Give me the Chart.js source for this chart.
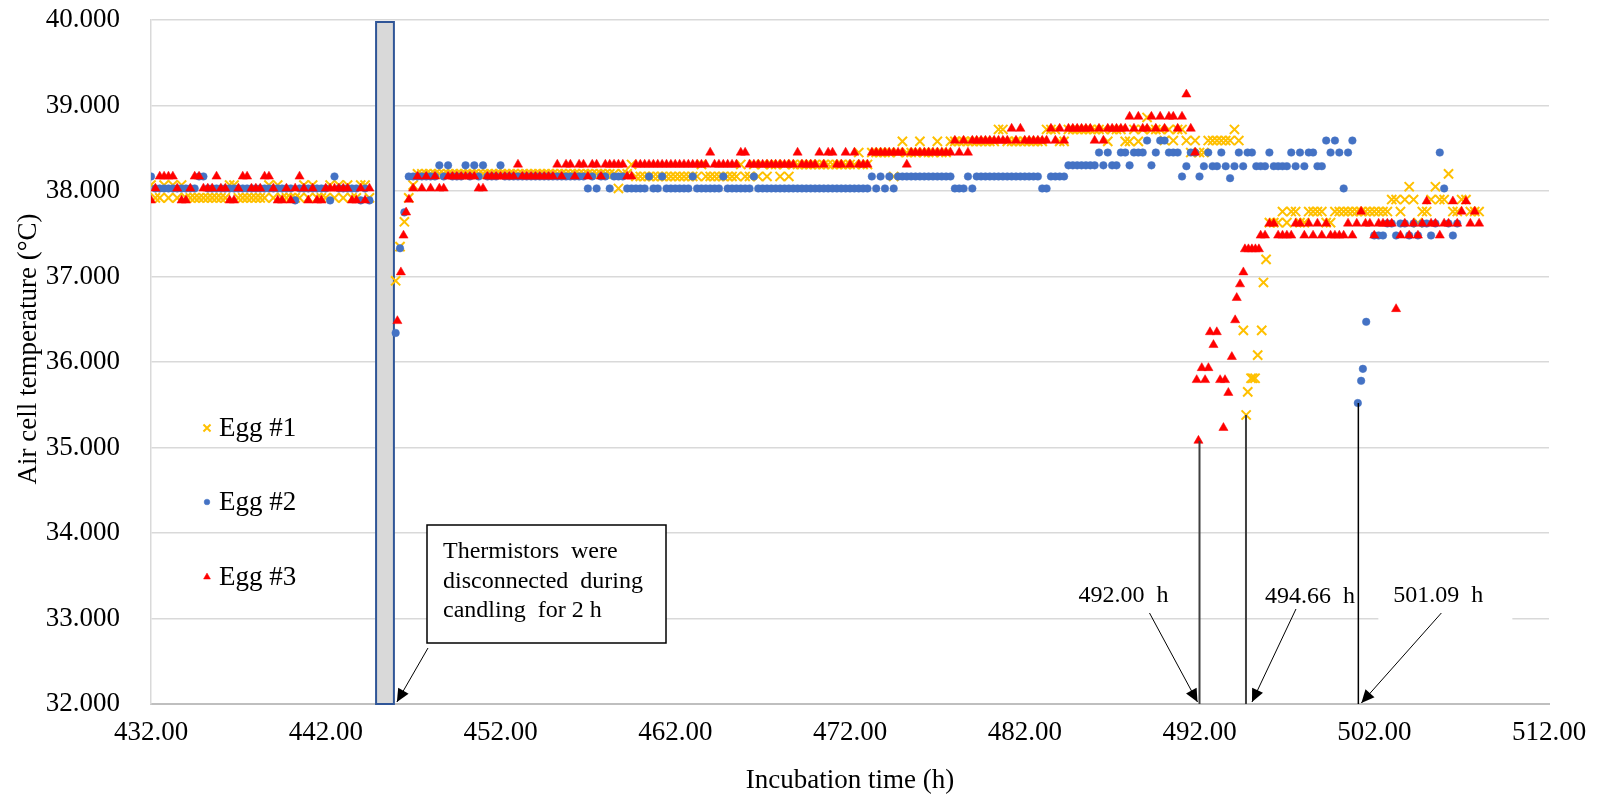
<!DOCTYPE html>
<html>
<head>
  <meta charset="utf-8" />
  <title>Air cell temperature - eggs 1 to 3</title>
  <script src="https://cdn.jsdelivr.net/npm/chart.js"></script>
  <style>
    body { margin: 0; background: #ffffff; }
  </style>
</head>
<body>
  <canvas id="airCellChart" width="1598" height="794"></canvas>

  <script>
    // logger readings, one every 15 min (h)
    const hours = [
      432, 432.25, 432.5, 432.75, 433, 433.25, 433.5, 433.75,
      434, 434.25, 434.5, 434.75, 435, 435.25, 435.5, 435.75,
      436, 436.25, 436.5, 436.75, 437, 437.25, 437.5, 437.75,
      438, 438.25, 438.5, 438.75, 439, 439.25, 439.5, 439.75,
      440, 440.25, 440.5, 440.75, 441, 441.25, 441.5, 441.75,
      442, 442.25, 442.5, 442.75, 443, 443.25, 443.5, 443.75,
      444, 444.25, 444.5, 444.75, 445, 445.25, 445.5, 445.75,
      446, 446.25, 446.5, 446.75, 447, 447.25, 447.5, 447.75,
      448, 448.25, 448.5, 448.75, 449, 449.25, 449.5, 449.75,
      450, 450.25, 450.5, 450.75, 451, 451.25, 451.5, 451.75,
      452, 452.25, 452.5, 452.75, 453, 453.25, 453.5, 453.75,
      454, 454.25, 454.5, 454.75, 455, 455.25, 455.5, 455.75,
      456, 456.25, 456.5, 456.75, 457, 457.25, 457.5, 457.75,
      458, 458.25, 458.5, 458.75, 459, 459.25, 459.5, 459.75,
      460, 460.25, 460.5, 460.75, 461, 461.25, 461.5, 461.75,
      462, 462.25, 462.5, 462.75, 463, 463.25, 463.5, 463.75,
      464, 464.25, 464.5, 464.75, 465, 465.25, 465.5, 465.75,
      466, 466.25, 466.5, 466.75, 467, 467.25, 467.5, 467.75,
      468, 468.25, 468.5, 468.75, 469, 469.25, 469.5, 469.75,
      470, 470.25, 470.5, 470.75, 471, 471.25, 471.5, 471.75,
      472, 472.25, 472.5, 472.75, 473, 473.25, 473.5, 473.75,
      474, 474.25, 474.5, 474.75, 475, 475.25, 475.5, 475.75,
      476, 476.25, 476.5, 476.75, 477, 477.25, 477.5, 477.75,
      478, 478.25, 478.5, 478.75, 479, 479.25, 479.5, 479.75,
      480, 480.25, 480.5, 480.75, 481, 481.25, 481.5, 481.75,
      482, 482.25, 482.5, 482.75, 483, 483.25, 483.5, 483.75,
      484, 484.25, 484.5, 484.75, 485, 485.25, 485.5, 485.75,
      486, 486.25, 486.5, 486.75, 487, 487.25, 487.5, 487.75,
      488, 488.25, 488.5, 488.75, 489, 489.25, 489.5, 489.75,
      490, 490.25, 490.5, 490.75, 491, 491.25, 491.5, 491.75,
      492, 492.25, 492.5, 492.75, 493, 493.25, 493.5, 493.75,
      494, 494.25, 494.5, 494.75, 495, 495.25, 495.5, 495.75,
      496, 496.25, 496.5, 496.75, 497, 497.25, 497.5, 497.75,
      498, 498.25, 498.5, 498.75, 499, 499.25, 499.5, 499.75,
      500, 500.25, 500.5, 500.75, 501, 501.25, 501.5, 501.75,
      502, 502.25, 502.5, 502.75, 503, 503.25, 503.5, 503.75,
      504, 504.25, 504.5, 504.75, 505, 505.25, 505.5, 505.75,
      506, 506.25, 506.5, 506.75, 507, 507.25, 507.5, 507.75,
      508
    ];

    // Egg #1 air cell temperature (°C), null = no reading
    const egg1Temps = [
      38.07, 37.92, 37.92, 38.07, 37.92, 38.07, 37.92, 38.07,
      37.92, 37.92, 37.92, 37.92, 37.92, 37.92, 37.92, 37.92,
      37.92, 37.92, 38.07, 38.07, 37.92, 37.92, 37.92, 37.92,
      37.92, 37.92, 37.92, 38.07, 37.92, 38.07, 37.92, 37.92,
      37.92, 37.92, 37.92, 38.07, 37.92, 38.07, 37.92, 37.92,
      37.92, 38.07, 37.92, 38.07, 37.92, 38.07, 37.92, 37.92,
      38.07, 38.07, 37.92, null, null, null, null, null,
      36.95, 37.35, 37.64, 37.92, 38.07, 38.20, 38.20, 38.20,
      38.20, 38.20, 38.20, 38.20, 38.20, 38.20, 38.20, 38.20,
      38.20, 38.20, 38.20, 38.20, 38.20, 38.20, 38.20, 38.20,
      38.20, 38.20, 38.20, 38.20, 38.20, 38.20, 38.20, 38.20,
      38.20, 38.20, 38.20, 38.20, 38.20, 38.20, 38.20, 38.20,
      38.20, 38.20, 38.20, 38.20, 38.20, 38.20, 38.20, 38.20,
      38.20, 38.20, 38.20, 38.03, 38.20, 38.20, 38.31, 38.17,
      38.17, 38.17, 38.17, 38.17, 38.17, 38.17, 38.17, 38.17,
      38.17, 38.17, 38.17, 38.17, 38.17, 38.17, 38.31, 38.17,
      38.17, 38.17, 38.17, 38.17, 38.17, 38.17, 38.17, 38.31,
      38.17, 38.17, 38.31, 38.17, 38.31, 38.17, 38.31, 38.31,
      38.17, 38.31, 38.17, 38.31, 38.31, 38.31, 38.31, 38.31,
      38.31, 38.31, 38.31, 38.31, 38.31, 38.31, 38.31, 38.31,
      38.31, 38.31, 38.45, 38.31, 38.31, 38.45, 38.45, 38.45,
      38.45, 38.45, 38.17, 38.45, 38.58, 38.45, 38.45, 38.45,
      38.58, 38.45, 38.45, 38.45, 38.58, 38.45, 38.45, 38.58,
      38.58, 38.58, 38.58, 38.58, 38.58, 38.58, 38.58, 38.58,
      38.58, 38.58, 38.72, 38.72, 38.58, 38.58, 38.58, 38.58,
      38.58, 38.58, 38.58, 38.58, 38.58, 38.72, 38.72, 38.72,
      38.58, 38.58, 38.72, 38.72, 38.72, 38.72, 38.72, 38.72,
      38.72, 38.72, 38.72, 38.58, 38.72, 38.72, 38.72, 38.58,
      38.58, 38.72, 38.58, 38.72, 38.86, 38.72, 38.72, 38.72,
      38.59, 38.72, 38.59, 38.72, 38.72, 38.59, 38.45, 38.59,
      38.45, 38.45, 38.59, 38.59, 38.59, 38.59, 38.59, 38.59,
      38.72, 38.59, null, null, null, null, null, null,
      37.63, 37.63, 37.63, 37.76, 37.63, 37.76, 37.76, 37.63,
      37.63, 37.76, 37.76, 37.76, 37.76, 37.63, 37.63, 37.76,
      37.76, 37.76, 37.76, 37.76, 37.76, 37.76, 37.76, 37.76,
      37.76, 37.76, 37.76, 37.76, 37.90, 37.90, 37.76, 37.90,
      38.05, 37.90, 37.63, 37.76, 37.76, 37.90, 38.05, 37.90,
      37.90, 38.20, 37.76, 37.76, 37.90, 37.90, 37.76, 37.76,
      37.76
    ];

    // Egg #2
    const egg2Temps = [
      38.17, 38.03, 38.03, 38.03, 38.03, 38.03, 38.03, 38.03,
      38.03, 38.03, 38.03, 38.17, 38.17, 38.03, 38.03, 38.03,
      38.03, 38.03, 38.03, 38.03, 38.03, 38.03, 38.03, 38.03,
      38.03, 38.03, 38.03, 38.03, 38.03, 38.03, 38.03, 38.03,
      38.03, 37.89, 38.03, 38.03, 38.03, 38.03, 38.03, 38.03,
      38.03, 37.89, 38.17, 38.03, 38.03, 38.03, 38.03, 38.03,
      37.89, 38.03, 37.89, null, null, null, null, null,
      36.34, 37.33, 37.75, 38.17, 38.17, 38.17, 38.17, 38.17,
      38.17, 38.17, 38.30, 38.17, 38.30, 38.17, 38.17, 38.17,
      38.30, 38.17, 38.30, 38.17, 38.30, 38.17, 38.17, 38.17,
      38.30, 38.17, 38.17, 38.17, 38.17, 38.17, 38.17, 38.17,
      38.17, 38.17, 38.17, 38.17, 38.17, 38.17, 38.17, 38.17,
      38.17, 38.17, 38.17, 38.17, 38.03, 38.17, 38.03, 38.17,
      38.17, 38.03, 38.17, 38.17, 38.17, 38.03, 38.03, 38.03,
      38.03, 38.03, 38.17, 38.03, 38.03, 38.17, 38.03, 38.03,
      38.03, 38.03, 38.03, 38.03, 38.17, 38.03, 38.03, 38.03,
      38.03, 38.03, 38.03, 38.17, 38.03, 38.03, 38.03, 38.03,
      38.03, 38.03, 38.17, 38.03, 38.03, 38.03, 38.03, 38.03,
      38.03, 38.03, 38.03, 38.03, 38.03, 38.03, 38.03, 38.03,
      38.03, 38.03, 38.03, 38.03, 38.03, 38.03, 38.03, 38.03,
      38.03, 38.03, 38.03, 38.03, 38.03, 38.17, 38.03, 38.17,
      38.03, 38.17, 38.03, 38.17, 38.17, 38.17, 38.17, 38.17,
      38.17, 38.17, 38.17, 38.17, 38.17, 38.17, 38.17, 38.17,
      38.03, 38.03, 38.03, 38.17, 38.03, 38.17, 38.17, 38.17,
      38.17, 38.17, 38.17, 38.17, 38.17, 38.17, 38.17, 38.17,
      38.17, 38.17, 38.17, 38.17, 38.03, 38.03, 38.17, 38.17,
      38.17, 38.17, 38.30, 38.30, 38.30, 38.30, 38.30, 38.30,
      38.30, 38.45, 38.30, 38.45, 38.30, 38.30, 38.45, 38.45,
      38.30, 38.45, 38.45, 38.45, 38.59, 38.30, 38.45, 38.59,
      38.59, 38.45, 38.45, 38.45, 38.17, 38.29, 38.45, 38.45,
      38.17, 38.29, 38.45, 38.29, 38.29, 38.45, 38.29, 38.15,
      38.29, 38.45, 38.29, 38.45, 38.45, 38.29, 38.29, 38.29,
      38.45, 38.29, 38.29, 38.29, 38.29, 38.45, 38.29, 38.45,
      38.29, 38.45, 38.45, 38.29, 38.29, 38.59, 38.45, 38.59,
      38.45, 38.03, 38.45, 38.59, null, null, null, null,
      37.48, 37.48, 37.48, 37.62, 37.62, 37.48, 37.62, 37.62,
      37.48, 37.62, 37.48, 37.62, 37.62, 37.48, 37.62, 38.45,
      38.03, 37.62, 37.48, 37.62, null, null, null, null,
      null
    ];

    // Egg #3
    const egg3Temps = [
      37.89, 38.03, 38.17, 38.17, 38.17, 38.17, 38.03, 37.89,
      37.89, 38.03, 38.17, 38.17, 38.03, 38.03, 38.03, 38.17,
      38.03, 38.03, 37.89, 37.89, 38.03, 38.17, 38.17, 38.03,
      38.03, 38.03, 38.17, 38.17, 38.03, 37.89, 37.89, 38.03,
      37.89, 38.03, 38.17, 38.03, 37.89, 38.03, 37.89, 37.89,
      38.03, 38.03, 38.03, 38.03, 38.03, 38.03, 37.89, 37.89,
      38.03, 37.89, 38.03, null, null, null, null, null,
      null, null, null, null, 38.03, 38.17, 38.03, 38.17,
      38.03, 38.17, 38.03, 38.03, 38.17, 38.17, 38.17, 38.17,
      38.17, 38.17, 38.17, 38.03, 38.03, 38.17, 38.17, 38.17,
      38.17, 38.17, 38.17, 38.17, 38.31, 38.17, 38.17, 38.17,
      38.17, 38.17, 38.17, 38.17, 38.17, 38.31, 38.17, 38.31,
      38.31, 38.17, 38.31, 38.31, 38.17, 38.31, 38.31, 38.17,
      38.31, 38.31, 38.31, 38.31, 38.31, 38.17, 38.17, 38.31,
      38.31, 38.31, 38.31, 38.31, 38.31, 38.31, 38.31, 38.31,
      38.31, 38.31, 38.31, 38.31, 38.31, 38.31, 38.31, 38.31,
      38.45, 38.31, 38.31, 38.31, 38.31, 38.31, 38.31, 38.45,
      38.45, 38.31, 38.31, 38.31, 38.31, 38.31, 38.31, 38.31,
      38.31, 38.31, 38.31, 38.31, 38.45, 38.31, 38.31, 38.31,
      38.31, 38.45, 38.31, 38.45, 38.45, 38.31, 38.31, 38.45,
      38.31, 38.45, 38.31, 38.31, 38.31, 38.45, 38.45, 38.45,
      38.45, 38.45, 38.45, 38.45, 38.45, 38.31, 38.45, 38.45,
      38.45, 38.45, 38.45, 38.45, 38.45, 38.45, 38.45, 38.45,
      38.59, 38.45, 38.59, 38.45, 38.59, 38.59, 38.59, 38.59,
      38.59, 38.59, 38.59, 38.59, 38.59, 38.73, 38.59, 38.73,
      38.59, 38.59, 38.59, 38.59, 38.59, 38.59, 38.73, 38.59,
      38.73, 38.59, 38.73, 38.73, 38.73, 38.73, 38.73, 38.73,
      38.59, 38.73, 38.59, 38.73, 38.73, 38.73, 38.73, 38.73,
      38.87, 38.73, 38.87, 38.73, 38.73, 38.87, 38.73, 38.87,
      38.73, 38.87, 38.87, 38.73, 38.87, 39.13, 38.73, 38.45,
      null, null, null, null, null, null, null, null,
      null, null, null, null, null, null, 37.48, 37.48,
      37.62, 37.62, 37.48, 37.48, 37.48, 37.48, 37.62, 37.62,
      37.48, 37.62, 37.48, 37.62, 37.48, 37.62, 37.48, 37.48,
      37.48, 37.48, 37.62, 37.48, 37.62, 37.76, 37.62, 37.62,
      37.48, 37.62, 37.62, 37.62, 37.62, 36.62, 37.48, 37.62,
      37.48, 37.62, 37.48, 37.62, 37.88, 37.62, 37.62, 37.48,
      37.62, 37.62, 37.88, 37.62, 37.76, 37.88, 37.62, 37.76,
      37.62
    ];

    // extra readings taken during the fast changes (hour, °C)
    const egg1Extra = [
      [494.51, 36.37], [494.67, 35.38], [494.76, 35.65], [494.95, 35.81], [495.05, 35.81],
      [495.18, 35.81], [495.33, 36.08], [495.56, 36.37], [495.66, 36.93], [495.81, 37.20]
    ];
    const egg2Extra = [
      [501.06, 35.52], [501.25, 35.78], [501.35, 35.92], [501.54, 36.47]
    ];
    const egg3Extra = [
      [446.10, 36.48], [446.30, 37.05], [446.45, 37.48], [446.60, 37.75], [446.76, 37.90],
      [491.84, 35.79], [491.94, 35.08], [492.13, 35.93], [492.32, 35.79], [492.51, 35.93],
      [492.60, 36.35], [492.80, 36.20], [492.99, 36.35], [493.18, 35.79], [493.37, 35.23],
      [493.46, 35.79], [493.65, 35.64], [493.85, 36.06], [494.04, 36.49], [494.13, 36.75],
      [494.32, 36.91], [494.51, 37.05], [494.60, 37.32], [494.80, 37.32], [495.00, 37.32],
      [495.20, 37.32], [495.40, 37.32]
    ];

    // pipping times marked with arrows, and the reading each line starts from
    const markedTimes = [492.00, 494.66, 501.09];
    const markedTemps = [35.08, 35.38, 35.52];
    const markedLabels = ['492.00  h', '494.66  h', '501.09  h'];

    // thermistors unplugged for candling
    const candlingFrom = 444.88;
    const candlingTo = 445.90;

    const SERIF = "'Liberation Serif', 'Times New Roman', serif";

    function toPoints(temps, extra) {
      const pts = [];
      for (let i = 0; i < hours.length; i++) {
        if (temps[i] !== null) pts.push({ x: hours[i], y: temps[i] });
      }
      extra.forEach(p => pts.push({ x: p[0], y: p[1] }));
      return pts;
    }

    function arrow(ctx, x1, y1, x2, y2) {
      ctx.beginPath();
      ctx.moveTo(x1, y1);
      ctx.lineTo(x2, y2);
      ctx.stroke();
      const a = Math.atan2(y2 - y1, x2 - x1);
      const len = 13, half = 6;
      ctx.beginPath();
      ctx.moveTo(x2, y2);
      ctx.lineTo(x2 - len * Math.cos(a) + half * Math.sin(a), y2 - len * Math.sin(a) - half * Math.cos(a));
      ctx.lineTo(x2 - len * Math.cos(a) - half * Math.sin(a), y2 - len * Math.sin(a) + half * Math.cos(a));
      ctx.closePath();
      ctx.fill();
    }

    const datasets = [
      {
        label: 'Egg #1',
        data: toPoints(egg1Temps, egg1Extra),
        pointStyle: 'crossRot',
        pointRadius: 6.5,
        pointBorderWidth: 2,
        borderColor: '#FFC000',
        backgroundColor: '#FFC000',
        order: 3
      },
      {
        label: 'Egg #2',
        data: toPoints(egg2Temps, egg2Extra),
        pointStyle: 'circle',
        pointRadius: 3.8,
        pointBorderWidth: 0.5,
        borderColor: '#4472C4',
        backgroundColor: '#4472C4',
        order: 2
      },
      {
        label: 'Egg #3',
        data: toPoints(egg3Temps, egg3Extra),
        pointStyle: 'triangle',
        pointRadius: 5.3,
        pointBorderWidth: 0.5,
        borderColor: '#FF0000',
        backgroundColor: '#FF0000',
        order: 1
      }
    ];

    // candling bar behind the points
    const candlingPlugin = {
      id: 'candling',
      beforeDatasetsDraw(chart) {
        const { ctx, scales: { x, y } } = chart;
        const x1 = x.getPixelForValue(candlingFrom);
        const x2 = x.getPixelForValue(candlingTo);
        const top = y.getPixelForValue(40) + 2;
        const bottom = y.getPixelForValue(32);
        ctx.save();
        ctx.fillStyle = '#D9D9D9';
        ctx.fillRect(x1, top, x2 - x1, bottom - top);
        ctx.strokeStyle = '#2F5597';
        ctx.lineWidth = 2;
        ctx.strokeRect(x1, top, x2 - x1, bottom - top);
        ctx.restore();
      }
    };

    // text box, arrows, y title and the legend inside the plot
    const notesPlugin = {
      id: 'notes',
      afterDraw(chart) {
        const { ctx, scales: { x, y } } = chart;
        ctx.save();

        // y axis title, a little above the middle like the original
        ctx.save();
        ctx.translate(29, 349);
        ctx.rotate(-Math.PI / 2);
        ctx.fillStyle = '#000000';
        ctx.font = '27px ' + SERIF;
        ctx.textAlign = 'center';
        ctx.textBaseline = 'middle';
        ctx.fillText('Air cell temperature (°C)', 0, 0);
        ctx.restore();

        // note box about candling
        ctx.fillStyle = '#ffffff';
        ctx.fillRect(427, 525, 239, 118);
        ctx.strokeStyle = '#000000';
        ctx.lineWidth = 1.5;
        ctx.strokeRect(427, 525, 239, 118);
        ctx.fillStyle = '#000000';
        ctx.font = '24px ' + SERIF;
        ctx.textAlign = 'left';
        ctx.textBaseline = 'alphabetic';
        ctx.fillText('Thermistors  were', 443, 558);
        ctx.fillText('disconnected  during', 443, 588);
        ctx.fillText('candling  for 2 h', 443, 617);

        ctx.lineWidth = 1;
        const barRight = x.getPixelForValue(candlingTo);
        arrow(ctx, 428, 648, barRight + 3, y.getPixelForValue(32) - 2);

        // vertical marks at the first drop of each egg
        const bottom = y.getPixelForValue(32);
        const px = markedTimes.map(t => x.getPixelForValue(t));
        markedTimes.forEach((t, i) => {
          ctx.strokeStyle = i < 2 ? '#404040' : '#000000';
          ctx.lineWidth = i < 2 ? 2 : 1.5;
          ctx.beginPath();
          ctx.moveTo(px[i], y.getPixelForValue(markedTemps[i]));
          ctx.lineTo(px[i], bottom);
          ctx.stroke();
        });

        // white patch behind the last label
        ctx.fillStyle = '#ffffff';
        ctx.fillRect(px[2] + 20, 575, 134, 50);

        ctx.fillStyle = '#000000';
        ctx.font = '24px ' + SERIF;
        ctx.fillText(markedLabels[0], px[0] - 121, 602);
        ctx.fillText(markedLabels[1], px[1] + 19, 603);
        ctx.fillText(markedLabels[2], px[2] + 35, 602);

        ctx.strokeStyle = '#000000';
        ctx.lineWidth = 1;
        arrow(ctx, px[0] - 50, 613, px[0] - 2, bottom - 2);
        arrow(ctx, px[1] + 50, 609, px[1] + 6, bottom - 2);
        arrow(ctx, px[2] + 83, 613, px[2] + 3, bottom - 1);

        // legend
        const rows = [428, 502, 577];
        chart.data.datasets.forEach((ds, i) => {
          ctx.fillStyle = ds.backgroundColor;
          ctx.strokeStyle = ds.borderColor;
          ctx.lineWidth = ds.pointBorderWidth;
          Chart.helpers.drawPoint(ctx, {
            pointStyle: ds.pointStyle,
            radius: ds.pointStyle === 'crossRot' ? 5 : ds.pointRadius * 0.75,
            rotation: 0,
            borderWidth: ds.pointBorderWidth
          }, 207, rows[i]);
          ctx.fillStyle = '#000000';
          ctx.font = '27px ' + SERIF;
          ctx.textAlign = 'left';
          ctx.textBaseline = 'middle';
          ctx.fillText(ds.label, 219, rows[i] + 1);
        });

        ctx.restore();
      }
    };

    const ctx = document.getElementById('airCellChart').getContext('2d');
    new Chart(ctx, {
      type: 'scatter',
      data: { datasets: datasets },
      plugins: [candlingPlugin, notesPlugin],
      options: {
        responsive: false,
        animation: false,
        layout: { padding: { top: 20, right: 49, left: 0, bottom: 0 } },
        plugins: {
          legend: { display: false },
          tooltip: { enabled: false }
        },
        scales: {
          x: {
            type: 'linear',
            min: 432,
            max: 512,
            afterFit(scale) {
              scale.height = 90;
              scale.paddingLeft = 0;
              scale.paddingRight = 0;
            },
            ticks: {
              stepSize: 10,
              padding: 13,
              color: '#000000',
              font: { family: SERIF, size: 27 },
              maxRotation: 0,
              callback: v => v.toFixed(2)
            },
            grid: { display: false, drawTicks: false },
            border: { color: '#BFBFBF', width: 2 },
            title: {
              display: true,
              text: 'Incubation time (h)',
              color: '#000000',
              font: { family: SERIF, size: 27, lineHeight: 1 },
              padding: 0
            }
          },
          y: {
            min: 32,
            max: 40,
            afterFit(scale) {
              scale.width = 151;
              scale.paddingTop = 0;
              scale.paddingBottom = 0;
            },
            ticks: {
              stepSize: 1,
              padding: 31,
              color: '#000000',
              font: { family: SERIF, size: 27 },
              callback: v => v.toFixed(3)
            },
            grid: { color: '#D9D9D9', lineWidth: 1.5, drawTicks: false },
            border: { color: '#D9D9D9', width: 1.5 },
            title: { display: false }
          }
        }
      }
    });
  </script>
</body>
</html>
